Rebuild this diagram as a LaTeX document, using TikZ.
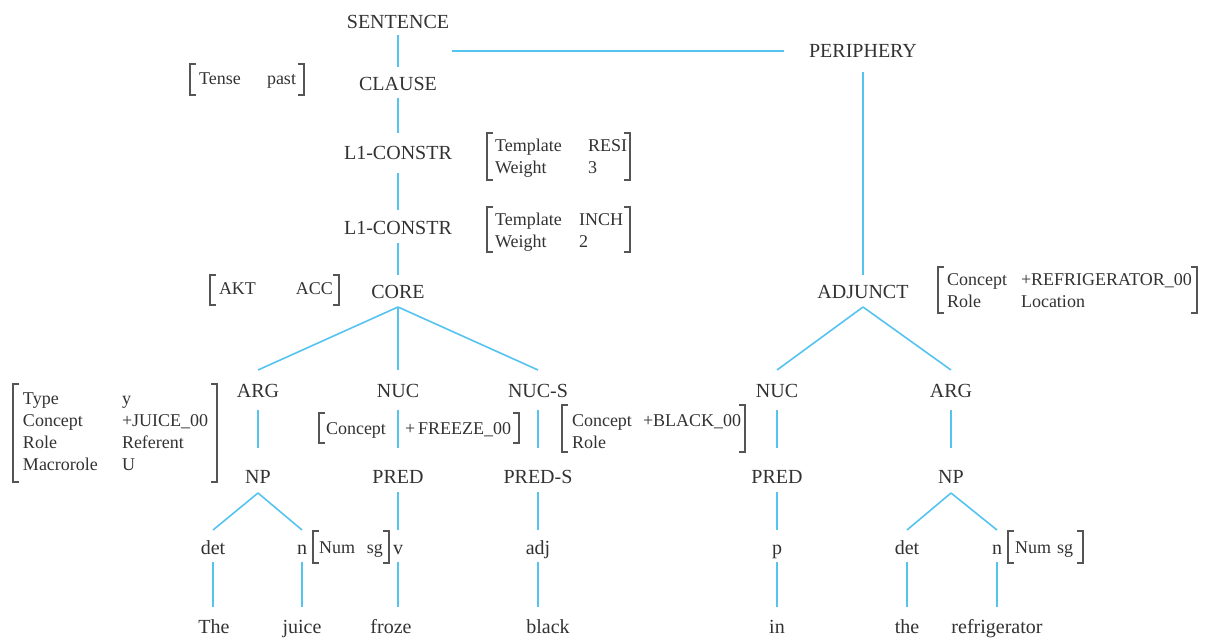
\documentclass[tikz,border=0pt]{standalone}
\usepackage{fontspec}
\setmainfont{Liberation Serif}
\definecolor{treeline}{RGB}{85,195,240}
\definecolor{ink}{RGB}{50,50,50}
\definecolor{brkc}{RGB}{85,85,85}
\newcommand{\labfont}{\fontsize{20}{24}\selectfont}
\newcommand{\featfont}{\fontsize{18}{22}\selectfont}
% one attribute name set in a column of fixed width
\newcommand{\featcol}[2]{\makebox[#1][l]{#2}}
% square brackets drawn along the left and right sides of a feature node
\newcommand{\featbrackets}[1]{%
  \draw[brk] ([xshift=6pt]#1.north west) -- (#1.north west) -- (#1.south west) -- ([xshift=6pt]#1.south west);
  \draw[brk] ([xshift=-6pt]#1.north east) -- (#1.north east) -- (#1.south east) -- ([xshift=-6pt]#1.south east);}

\begin{document}
\begin{tikzpicture}[x=1pt,y=-1pt,
  lab/.style={inner sep=0pt, outer sep=0pt, text height=13pt, text depth=0pt, font=\labfont, text=ink},
  fm/.style={inner ysep=0pt, outer sep=0pt, align=left, font=\featfont, text=ink, text height=13pt},
  tie/.style={draw=treeline, line width=1.6pt},
  brk/.style={draw=brkc, line width=1.2pt}]
\useasboundingbox (0,0) rectangle (1209,639);

% ---- layered structure labels
\node[lab] (sent)   at (398,22)  {SENTENCE};
\node[lab] (clause) at (398,84)  {CLAUSE};
\node[lab] (lca)    at (398,153) {L1-CONSTR};
\node[lab] (lcb)    at (398,228) {L1-CONSTR};
\node[lab] (core)   at (398,292) {CORE};
\node[lab] (peri)   at (863,51)  {PERIPHERY};
\node[lab] (adjn)   at (863,292) {ADJUNCT};

\node[lab] (argA) at (258,391) {ARG};
\node[lab] (nucA) at (398,391) {NUC};
\node[lab] (nucS) at (538,391) {NUC-S};
\node[lab] (nucB) at (777,391) {NUC};
\node[lab] (argB) at (951,391) {ARG};

\node[lab] (npA)   at (258,477) {NP};
\node[lab] (predA) at (398,477) {PRED};
\node[lab] (predS) at (538,477) {PRED-S};
\node[lab] (predB) at (777,477) {PRED};
\node[lab] (npB)   at (951,477) {NP};

% ---- word categories
\node[lab] (detA) at (213,548) {det};
\node[lab] (nA)   at (302,548) {n};
\node[lab] (vA)   at (398,548) {v};
\node[lab] (adjc) at (538,548) {adj};
\node[lab] (pB)   at (777,548) {p};
\node[lab] (detB) at (907,548) {det};
\node[lab] (nB)   at (997,548) {n};

% ---- the sentence
\node[lab] (wThe)   at (214,627) {The};
\node[lab] (wJuice) at (302,627) {juice};
\node[lab] (wFroze) at (391,627) {froze};
\node[lab] (wBlack) at (548,627) {black};
\node[lab] (wIn)    at (777,627) {in};
\node[lab] (wthe)   at (907,627) {the};
\node[lab] (wRefr)  at (997,627) {refrigerator};

% ---- feature matrices
\node[fm, text width=96pt, inner xsep=9pt, minimum height=31pt, text depth=3pt] (fTense) at (247,79.5)
  {\featcol{68pt}{Tense}past};
\node[fm, text width=127pt, inner xsep=8pt, minimum height=47pt, text depth=22pt] (fResi) at (558.5,156.5)
  {\featcol{93pt}{Template}RESI\\\featcol{93pt}{Weight}3};
\node[fm, text width=127pt, inner xsep=8pt, minimum height=45pt, text depth=22pt] (fInch) at (558.5,229.5)
  {\featcol{84pt}{Template}INCH\\\featcol{84pt}{Weight}2};
\node[fm, text width=111pt, inner xsep=9pt, minimum height=30pt, text depth=4pt] (fAkt) at (274.5,290)
  {\featcol{77pt}{AKT}ACC};
\node[fm, text width=241pt, inner xsep=9pt, minimum height=46pt, text depth=22pt] (fRef) at (1067.5,290)
  {\featcol{74pt}{Concept}+REFRIGERATOR\_00\\\featcol{74pt}{Role}Location};
\node[fm, text width=184pt, inner xsep=10pt, minimum height=98pt, text depth=71pt] (fJuice) at (115,433)
  {\featcol{99pt}{Type}y\\\featcol{99pt}{Concept}+JUICE\_00\\\featcol{99pt}{Role}Referent\\\featcol{99pt}{Macrorole}U};
\node[fm, text width=186pt, inner xsep=7pt, minimum height=30pt, text depth=0pt] (fFreeze) at (419,428)
  {\featcol{79pt}{Concept}+\,FREEZE\_00};
\node[fm, text width=163pt, inner xsep=10pt, minimum height=47pt, text depth=18pt] (fBlack) at (653.5,428.5)
  {\featcol{71pt}{Concept}+BLACK\_00\\Role};
\node[fm, text width=64pt, inner xsep=6pt, minimum height=32pt, text depth=0pt] (fNumA) at (351,547)
  {\featcol{48pt}{Num}sg};
\node[fm, text width=61pt, inner xsep=7pt, minimum height=32pt, text depth=0pt] (fNumB) at (1045.5,547)
  {\featcol{42pt}{Num}sg};

\featbrackets{fTense}
\featbrackets{fResi}
\featbrackets{fInch}
\featbrackets{fAkt}
\featbrackets{fRef}
\featbrackets{fJuice}
\featbrackets{fFreeze}
\featbrackets{fBlack}
\featbrackets{fNumA}
\featbrackets{fNumB}

% ---- spine of the clause
\draw[tie, shorten <=6.5pt, shorten >=10.5pt] (sent.south) -- (clause.north);
\draw[tie, shorten <=7.5pt, shorten >=13.5pt] (clause.south) -- (lca.north);
\draw[tie, shorten <=13.5pt, shorten >=11.5pt] (lca.south) -- (lcb.north);
\draw[tie, shorten <=8.5pt, shorten >=10.5pt] (lcb.south) -- (core.north);
\draw[tie, shorten <=3pt, shorten >=25pt] (sent.east |- peri.west) -- (peri.west);
\draw[tie, shorten <=14.5pt, shorten >=10.5pt] (peri.south) -- (adjn.north);

% ---- branching from CORE and ADJUNCT
\draw[tie] ([yshift=-8.5pt]core.south) -- ([yshift=14.5pt]argA.north);
\draw[tie] ([yshift=-8.5pt]core.south) -- ([yshift=14.5pt]nucA.north);
\draw[tie] ([yshift=-8.5pt]core.south) -- ([yshift=14.5pt]nucS.north);
\draw[tie] ([yshift=-8.5pt]adjn.south) -- ([yshift=14.5pt]nucB.north);
\draw[tie] ([yshift=-8.5pt]adjn.south) -- ([yshift=14.5pt]argB.north);

% ---- second level
\foreach \a/\b in {argA/npA, nucA/predA, nucS/predS, nucB/predB, argB/npB}
  \draw[tie, shorten <=12.5pt, shorten >=22.5pt] (\a.south) -- (\b.north);

% ---- noun phrases and predicates
\draw[tie] ([yshift=-9.5pt]npA.south) -- ([yshift=11.5pt]detA.north);
\draw[tie] ([yshift=-9.5pt]npA.south) -- ([yshift=11.5pt]nA.north);
\draw[tie] ([yshift=-9.5pt]npB.south) -- ([yshift=11.5pt]detB.north);
\draw[tie] ([yshift=-9.5pt]npB.south) -- ([yshift=11.5pt]nB.north);
\foreach \a/\b in {predA/vA, predS/adjc, predB/pB}
  \draw[tie, shorten <=8.5pt, shorten >=11.5pt] (\a.south) -- (\b.north);

% ---- categories to words
\foreach \a/\b in {detA/wThe, nA/wJuice, vA/wFroze, adjc/wBlack, pB/wIn, detB/wthe, nB/wRefr}
  \draw[tie, shorten <=7.5pt, shorten >=13.5pt] (\a.south) -- (\a.south |- \b.north);
\end{tikzpicture}
\end{document}
